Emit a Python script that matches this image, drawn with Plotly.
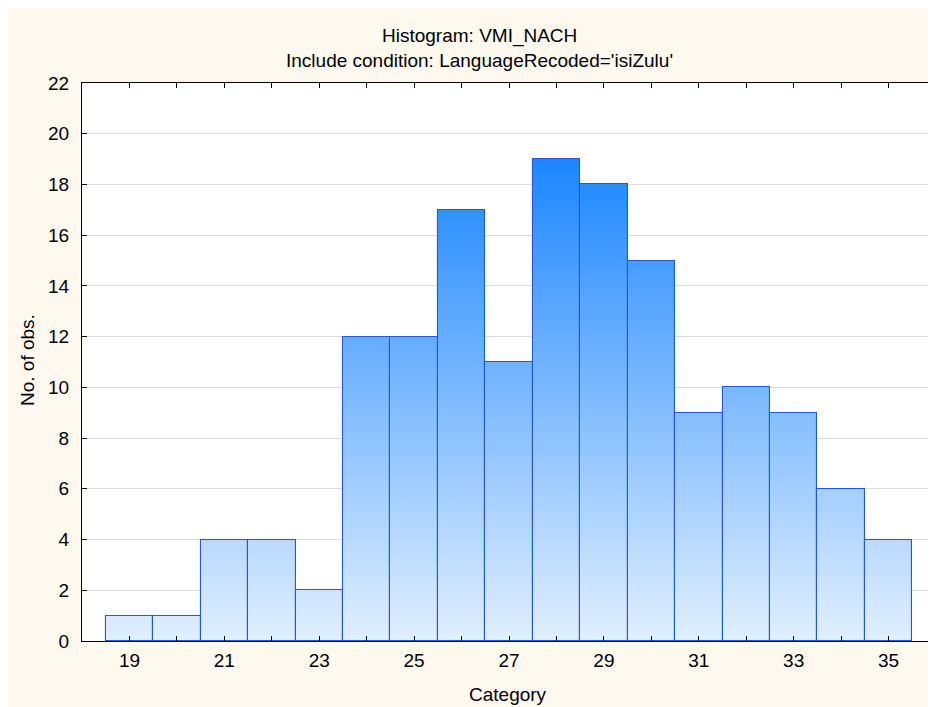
import plotly.graph_objects as go

# ---- data ----
categories = list(range(19, 36))
counts = [1, 1, 4, 4, 2, 12, 12, 17, 11, 19, 18, 15, 9, 10, 9, 6, 4]
x_tick_values = list(range(19, 36))
x_tick_labels = [str(v) if v % 2 == 1 else "" for v in x_tick_values]
y_tick_values = list(range(0, 23, 2))

title_line1 = "Histogram: VMI_NACH"
title_line2 = "Include condition: LanguageRecoded='isiZulu'"
x_title = "Category"
y_title = "No. of obs."

# ---- layout geometry (figure pixel coords; page adds 8px body margin) ----
W, H = 936, 707
ML, MR, MT, MB = 74, 8, 75, 74
PW = W - ML - MR
PH = H - MT - MB

def px_x(px):
    return (px - ML) / PW

def px_y(py):
    return (H - MB - py) / PH

FONT = "Liberation Sans, Arial, sans-serif"
CREAM = "#FDF9EF"
FS = 19

# gradient colours (value 0 -> light, value 19 -> deep blue)
c_low = (226, 239, 254)
c_high = (28, 134, 255)
vmax = 19.0

def grad(v):
    t = max(0.0, min(1.0, v / vmax))
    r = round(c_low[0] + (c_high[0] - c_low[0]) * t)
    g = round(c_low[1] + (c_high[1] - c_low[1]) * t)
    b = round(c_low[2] + (c_high[2] - c_low[2]) * t)
    return f"rgb({r},{g},{b})"

# build gradient segments from the counts
step = 0.1
seg_x, seg_base, seg_h, seg_col = [], [], [], []
for c, v in zip(categories, counts):
    k = 0
    while k * step < v - 1e-9:
        b0 = k * step
        top = min(v, b0 + step + 0.06)
        seg_x.append(c)
        seg_base.append(b0)
        seg_h.append(top - b0)
        seg_col.append(grad(b0 + step / 2))
        k += 1

fig = go.Figure()
fig.add_trace(go.Bar(
    x=seg_x, y=seg_h, base=seg_base, width=1.0,
    marker=dict(color=seg_col, line=dict(width=0)),
    hoverinfo="skip", showlegend=False,
))
fig.add_trace(go.Bar(
    x=categories, y=counts, width=1.0,
    marker=dict(color="rgba(0,0,0,0)", line=dict(color="rgb(30,90,218)", width=1.1)),
    showlegend=False,
))

fig.update_layout(
    width=W, height=H,
    margin=dict(l=ML, r=MR, t=MT, b=MB, pad=0),
    paper_bgcolor=CREAM, plot_bgcolor="white",
    barmode="overlay", bargap=0,
    font=dict(family=FONT, size=FS, color="black"),
    xaxis=dict(
        range=[18, 36], tickmode="array", tickvals=x_tick_values, ticktext=x_tick_labels,
        ticks="inside", ticklen=5, tickcolor="black", showline=True, linecolor="black",
        linewidth=1, mirror="ticks", showgrid=False, zeroline=False,
        ticklabelstandoff=2, tickfont=dict(size=FS),
    ),
    yaxis=dict(
        range=[0, 22], tickmode="array", tickvals=y_tick_values,
        ticks="inside", ticklen=5, tickcolor="black", showline=True, linecolor="black",
        linewidth=1, mirror="ticks", showgrid=True, gridcolor="#DCDCDC", gridwidth=1,
        zeroline=False, ticklabelstandoff=8, tickfont=dict(size=FS),
    ),
    annotations=[
        dict(text=title_line1, xref="paper", yref="paper", x=px_x(471), y=px_y(28),
             showarrow=False, xanchor="center", yanchor="middle", font=dict(size=FS)),
        dict(text=title_line2, xref="paper", yref="paper", x=px_x(471), y=px_y(52),
             showarrow=False, xanchor="center", yanchor="middle", font=dict(size=FS)),
        dict(text=x_title, xref="paper", yref="paper", x=px_x(500), y=px_y(686),
             showarrow=False, xanchor="center", yanchor="middle", font=dict(size=FS)),
        dict(text=y_title, xref="paper", yref="paper", x=px_x(19), y=px_y(352),
             showarrow=False, xanchor="center", yanchor="middle", textangle=-90,
             font=dict(size=FS)),
    ],
)

fig.write_html("out.html")
